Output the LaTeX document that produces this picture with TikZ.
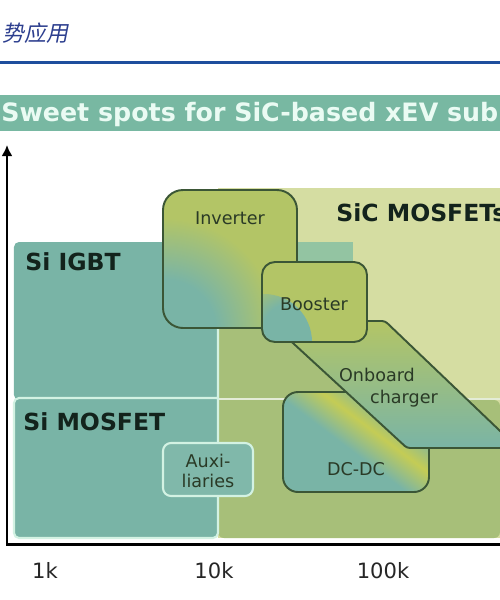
\documentclass[tikz,border=0pt]{standalone}
\usepackage{fontspec}
\setmainfont{DejaVu Sans}
\newfontfamily\cjk[FakeSlant=0.2]{Noto Sans CJK SC}
\usepackage{tikz}
\usetikzlibrary{positioning, arrows.meta}

\definecolor{siteal}{HTML}{79B4A6}
\definecolor{siclight}{HTML}{D5DDA2}
\definecolor{sicolive}{HTML}{A7BF79}
\definecolor{igbtstrip}{HTML}{93C4A2}
\definecolor{boxgreen}{HTML}{B3C566}
\definecolor{bandyellow}{HTML}{C4CC55}
\definecolor{boxedge}{HTML}{3B5636}
\definecolor{mintline}{HTML}{D3F2E3}
\definecolor{bannerfill}{HTML}{78B8A2}
\definecolor{bannertext}{HTML}{EAFBF3}
\definecolor{ruleblue}{HTML}{1E4E9D}
\definecolor{cjkblue}{HTML}{2C3E8E}
\definecolor{labeltext}{HTML}{13231C}
\definecolor{boxtext}{HTML}{2A3A26}

\pgfdeclareradialshading{tealblob}{\pgfpoint{0bp}{0bp}}{color(0bp)=(siteal); color(9bp)=(siteal); color(20bp)=(boxgreen); color(50bp)=(boxgreen)}
\pgfdeclarehorizontalshading{dcband}{100bp}{color(0bp)=(siteal); color(46bp)=(siteal); color(58bp)=(bandyellow); color(70bp)=(siteal); color(100bp)=(siteal)}

\begin{document}
\begin{tikzpicture}[x=0.02cm,y=-0.02cm,
    zonelabel/.style={font=\bfseries\fontsize{13.4}{15}\selectfont,text=labeltext,inner sep=0pt},
    boxlabel/.style={font=\fontsize{10}{12}\selectfont,text=boxtext,inner sep=0pt,anchor=base},
    ticklabel/.style={font=\fontsize{12}{14}\selectfont,text=black!85,inner sep=0pt,anchor=base},
    appbox/.style={draw=boxedge,line width=1.1pt},
    axis/.style={line width=1.7pt,{Latex[length=2.2mm,width=2.2mm]}-}]
  \useasboundingbox (0,0) rectangle (500,600);

  % heading
  \node[anchor=base west,inner sep=0pt,font=\cjk\fontsize{12.5}{14}\selectfont,text=cjkblue] (subtitle) at (2,41) {势应用};
  \draw[ruleblue,line width=1.7pt] (0,62) -- (500,62);
  \fill[bannerfill] (0,95) rectangle (500,131);
  \node[anchor=base west,inner sep=0pt,font=\bfseries\fontsize{14.4}{16}\selectfont,text=bannertext] (banner) at (1,121) {Sweet spots for SiC-based xEV sub};

  % zones
  \fill[siteal,rounded corners=0.1cm] (14,242) rectangle (240,400);
  \fill[siclight] (218,188) rectangle (500,538);
  \fill[igbtstrip] (218,242) rectangle (353,262);
  \fill[sicolive,rounded corners=0.12cm] (218,262) -- (353,262) -- (353,400) -- (500,400) -- (500,538) -- (218,538) -- cycle;
  \draw[white!70!sicolive,line width=0.6pt] (218,399) -- (500,399);
  \fill[siteal,rounded corners=0.1cm] (14,398) rectangle (218,538);
  \draw[mintline,line width=1.2pt,rounded corners=0.1cm] (218,328) -- (218,538) -- (14,538) -- (14,398) -- (218,398);

  % application boxes
  \draw[appbox,rounded corners=0.3cm,path picture={\shade[shading=dcband,shading angle=53] (283,392) rectangle (429,492);}] (283,392) rectangle (429,492);
  \draw[appbox,rounded corners=0.06cm,top color=boxgreen,bottom color=siteal] (269,321) -- (385,321) -- (520,450) -- (520,448) -- (407,448) -- cycle;
  \draw[appbox,rounded corners=0.4cm,fill=boxgreen,path picture={\shade[shading=tealblob] (165,330) circle (140);}] (163,190) rectangle (297,328);
  \draw[appbox,rounded corners=0.26cm,fill=boxgreen,path picture={\shade[shading=tealblob] (264,342) circle (48);}] (262,262) rectangle (367,342);
  \draw[mintline,line width=1.2pt,fill=siteal!95!white,rounded corners=0.16cm] (163,443) rectangle (253,496);

  % texts
  \node[zonelabel,anchor=base west] (igbt) at (25,270) {Si IGBT};
  \node[zonelabel,anchor=base west] (simos) at (23,430) {Si MOSFET};
  \node[zonelabel,anchor=base west] (sicmos) at (336,221) {SiC MOSFETs};
  \node[boxlabel] (inverter) at (230,224) {Inverter};
  \node[boxlabel] (booster) at (314,310) {Booster};
  \node[boxlabel] (onboard) at (377,381) {Onboard};
  \node[boxlabel] (charger) at (404,403) {charger};
  \node[boxlabel] (dcdc) at (356,475) {DC-DC};
  \node[boxlabel] (auxi) at (208,467) {Auxi-};
  \node[boxlabel] (liaries) at (208,487) {liaries};

  % axes
  \coordinate (origin) at (7,544);
  \coordinate (ytop) at (7,145);
  \coordinate (xend) at (505,544);
  \draw[axis] (ytop) -- (origin) -- (xend);
  \node[ticklabel] (t1k) at (45,578) {1k};
  \node[ticklabel] (t10k) at (214,578) {10k};
  \node[ticklabel] (t100k) at (383,578) {100k};
\end{tikzpicture}
\end{document}
